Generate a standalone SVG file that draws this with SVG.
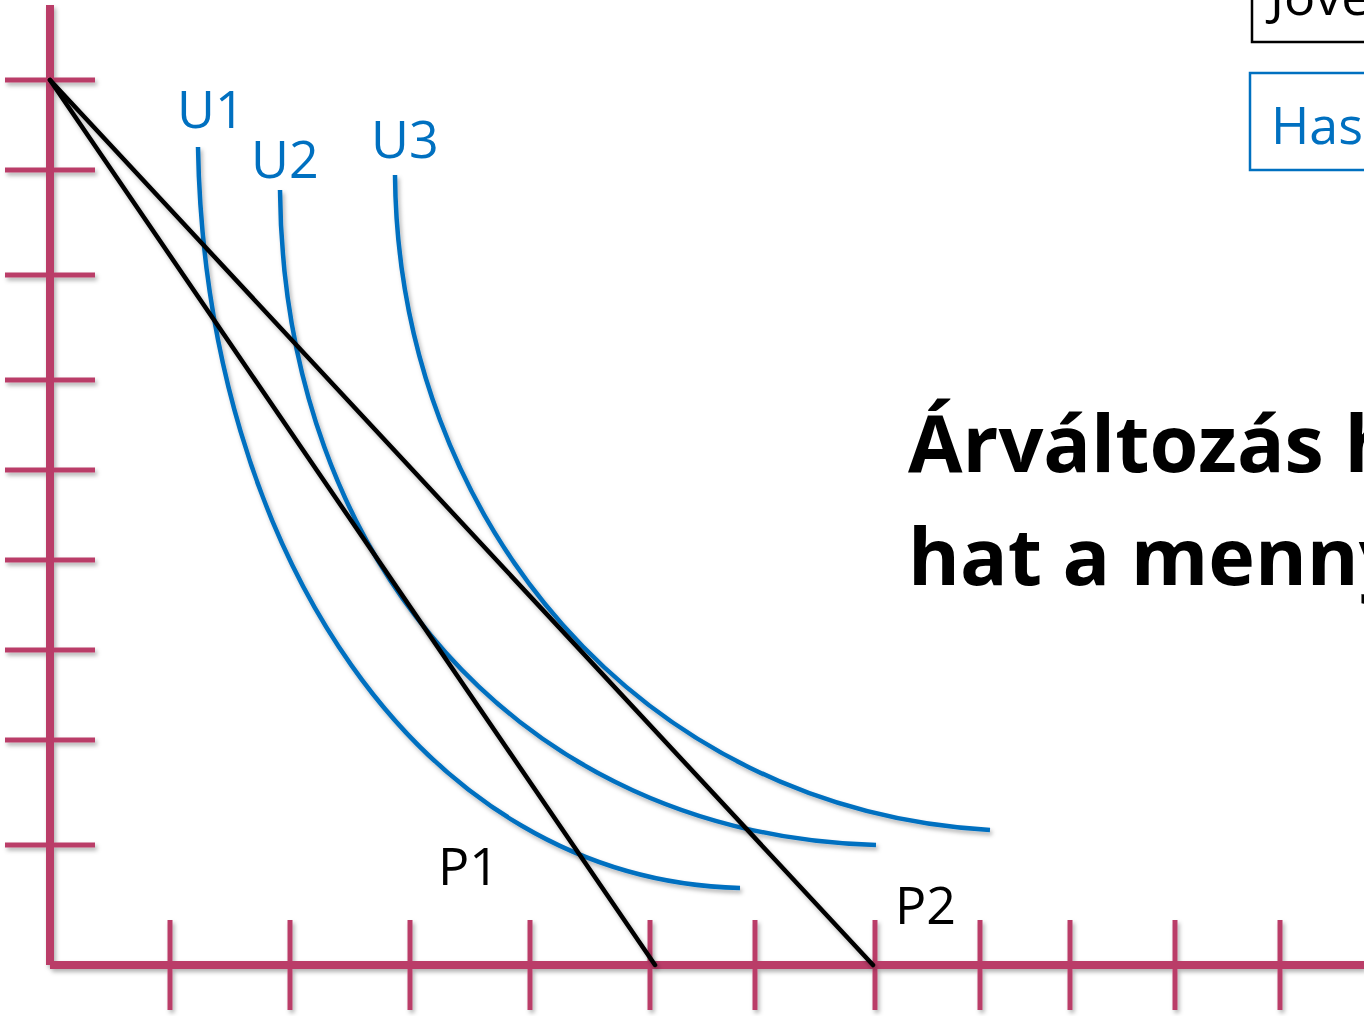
<svg xmlns="http://www.w3.org/2000/svg" width="1364" height="1016" viewBox="0 0 1364 1016">
<defs>
<style>
.ax{stroke:#BA3C68;stroke-width:8;fill:none}
.tk{stroke:#BA3C68;stroke-width:5;fill:none}
.bl{stroke:#000;stroke-width:4.5;fill:none;stroke-linecap:round}
.cv{stroke:#0070C0;stroke-width:4.5;fill:none}
.lb{font-family:"Open Sans","Noto Sans",sans-serif;font-size:52px}
.ti{font-family:"Open Sans","Noto Sans",sans-serif;font-size:79px;font-weight:bold;fill:#000}
</style>
<filter id="sh" x="-5%" y="-5%" width="110%" height="110%">
<feDropShadow dx="2" dy="3" stdDeviation="2" flood-color="#000" flood-opacity="0.3"/>
</filter>
</defs>
<rect width="1364" height="1016" fill="#fff"/>
<g id="axes" filter="url(#sh)">
<line class="ax" x1="50" y1="5" x2="50" y2="965"/>
<line class="ax" x1="50" y1="965" x2="1364" y2="965"/>
<g class="tk">
<line x1="5" y1="80" x2="95" y2="80"/>
<line x1="5" y1="170" x2="95" y2="170"/>
<line x1="5" y1="275" x2="95" y2="275"/>
<line x1="5" y1="380" x2="95" y2="380"/>
<line x1="5" y1="470" x2="95" y2="470"/>
<line x1="5" y1="560" x2="95" y2="560"/>
<line x1="5" y1="650" x2="95" y2="650"/>
<line x1="5" y1="740" x2="95" y2="740"/>
<line x1="5" y1="845" x2="95" y2="845"/>
<line x1="170" y1="920" x2="170" y2="1010"/>
<line x1="290" y1="920" x2="290" y2="1010"/>
<line x1="410" y1="920" x2="410" y2="1010"/>
<line x1="530" y1="920" x2="530" y2="1010"/>
<line x1="650" y1="920" x2="650" y2="1010"/>
<line x1="755" y1="920" x2="755" y2="1010"/>
<line x1="875" y1="920" x2="875" y2="1010"/>
<line x1="980" y1="920" x2="980" y2="1010"/>
<line x1="1070" y1="920" x2="1070" y2="1010"/>
<line x1="1175" y1="920" x2="1175" y2="1010"/>
<line x1="1280" y1="920" x2="1280" y2="1010"/>
</g>
</g>
<g id="curves" filter="url(#sh)">
<path id="U1-curve" class="cv" d="M198,147 C205,550 420,880 740,888"/>
<path id="U2-curve" class="cv" d="M280,190 C283,560 520,835 876,845"/>
<path id="U3-curve" class="cv" d="M395,175 C398,520 640,810 990,830"/>
</g>
<g id="connectors" filter="url(#sh)">
<line id="P1-line" class="bl" x1="50" y1="80" x2="655" y2="965"/>
<line id="P2-line" class="bl" x1="50" y1="80" x2="873" y2="965"/>
</g>
<g id="labels" class="lb">
<text x="177" y="128" fill="#0070C0">U1</text>
<text x="251" y="178" fill="#0070C0">U2</text>
<text x="371" y="158" fill="#0070C0">U3</text>
<text x="438" y="885" fill="#000">P1</text>
<text x="895" y="924" fill="#000">P2</text>
</g>
<g id="legend">
<line x1="1070" y1="-1" x2="1190" y2="-1" stroke="#000" stroke-width="8" filter="url(#sh)"/>
<g id="legend-budget">
<rect x="1252" y="-60" width="160" height="102" fill="none" stroke="#000" stroke-width="2.5"/>
<text class="lb" x="1270" y="15" fill="#000">Jöve</text>
</g>
<line x1="1070" y1="125" x2="1190" y2="125" stroke="#0070C0" stroke-width="8" filter="url(#sh)"/>
<g id="legend-utility">
<rect x="1250" y="73" width="160" height="97" fill="none" stroke="#0070C0" stroke-width="2.5"/>
<text class="lb" x="1271" y="144" fill="#0070C0">Has</text>
</g>
</g>
<g id="title">
<text class="ti" x="908" y="472">Árváltozás h</text>
<text class="ti" x="908" y="585">hat a menny</text>
</g>
</svg>
